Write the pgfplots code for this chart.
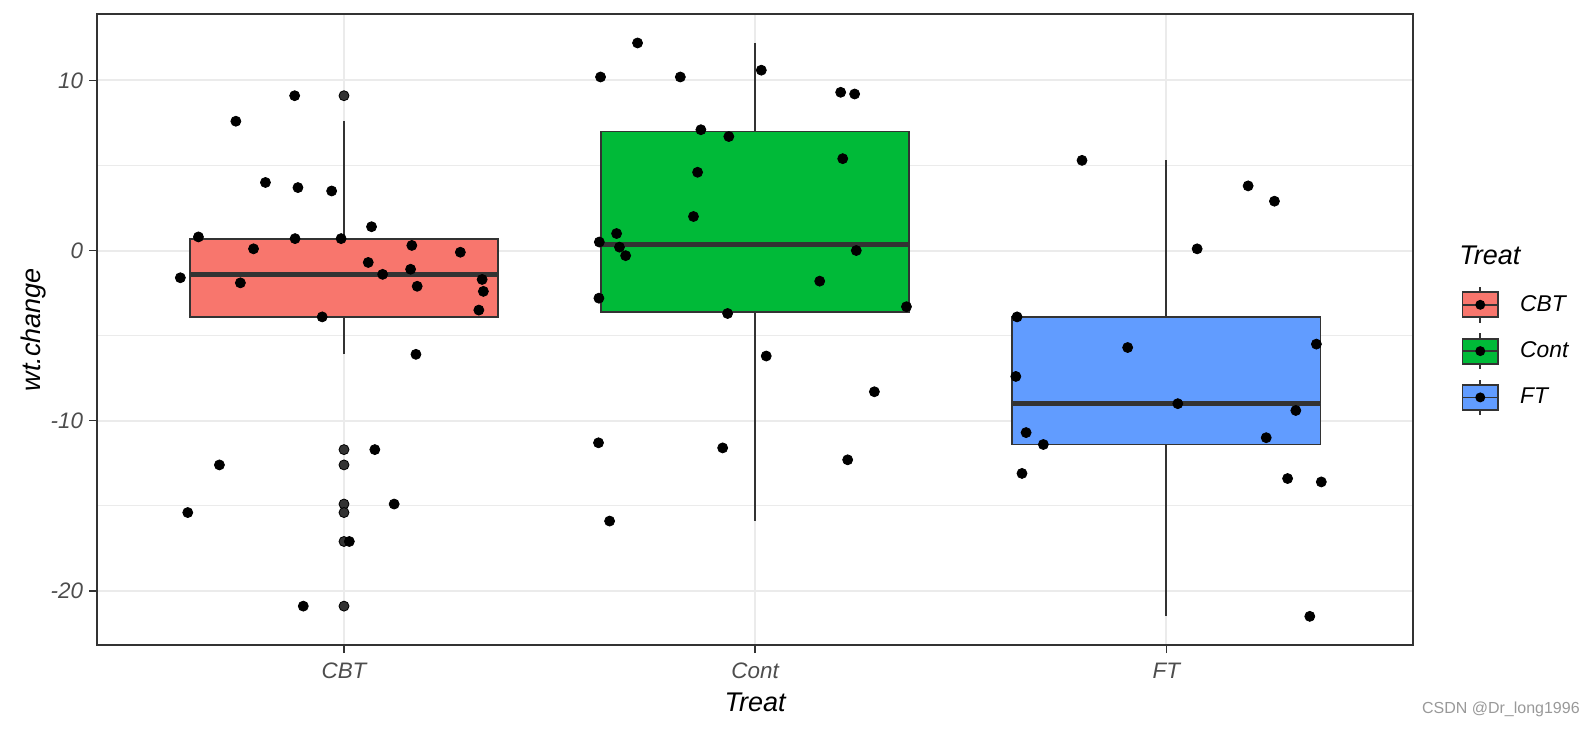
\documentclass[border=0pt]{standalone}
\usepackage{fontspec}
\setmainfont{Liberation Sans}
\usepackage{pgfplots}
\pgfplotsset{compat=1.18}
\usepgfplotslibrary{statistics}
\usetikzlibrary{calc}

\definecolor{cbt}{HTML}{F8766D}
\definecolor{cont}{HTML}{00BA38}
\definecolor{ft}{HTML}{619CFF}
\definecolor{gray20}{HTML}{333333}
\definecolor{gray30}{HTML}{4D4D4D}
\definecolor{gridc}{HTML}{EBEBEB}

% legend key: box + whiskers + median + dot
\newcommand\keybox[1]{\addlegendimage{legend image code/.code={
  \path[draw=none, fill=none] (0pt,-11.575pt) rectangle (17.7pt,11.575pt);
  \draw[gray20, line width=0.9pt] (8.85pt,-8.9pt) -- (8.85pt,8.9pt);
  \draw[fill=#1, draw=gray20, line width=0.9pt] (0pt,-6.25pt) rectangle (17.7pt,6.25pt);
  \draw[gray20, line width=0.9pt] (0pt,0pt) -- (17.7pt,0pt);
  \fill[black, draw=none] (8.85pt,0pt) circle (2.5pt);
}}}

\begin{document}
\begin{tikzpicture}
\begin{axis}[
  scale only axis, clip=false,
  width=657.85pt, height=315.35pt,
  xmin=0.4, xmax=3.6, ymin=-23.185, ymax=13.885,
  xtick={1,2,3}, xticklabels={CBT,Cont,FT},
  ytick={-20,-10,0,10}, yticklabels={-20,-10,0,10},
  minor ytick={-15,-5,5},
  grid=both,
  major grid style={draw=gridc, line width=1pt},
  minor grid style={draw=gridc, line width=0.5pt},
  axis line style={draw=gray20, line width=0.8pt},
  tick align=outside, tick pos=left,
  major tick length=4pt, minor tick length=0pt,
  every tick/.style={draw=gray20, line width=0.8pt},
  tick label style={font=\fontsize{11.2}{13}\selectfont\itshape, text=gray30},
  xticklabel style={anchor=base, inner sep=0pt, yshift=-12.6pt},
  yticklabel style={anchor=east, inner sep=0pt, xshift=-2.9pt},
  xlabel={Treat}, ylabel={wt.change},
  label style={font=\fontsize{13.5}{16}\selectfont\itshape},
  xlabel style={at={(rel axis cs:0.5,-0.1058)}, anchor=base, inner sep=0pt},
  ylabel style={at={(rel axis cs:-0.0482,0.5)}, anchor=center, inner sep=0pt},
  boxplot/draw direction=y,
  boxplot/whisker extend=0,
  boxplot/every median/.style={line width=2.3pt},
  legend style={at={(1.037,0.5761)}, anchor=north west, draw=none, fill=none,
    inner sep=0pt, outer sep=0pt, row sep=0pt,
    nodes={inner sep=0pt},
    font=\fontsize{11.4}{13}\selectfont\itshape,
    /tikz/every odd column/.append style={column sep=10.65pt}},
  legend cell align=left,
]
% boxplots (ggplot: Tukey hinges, whiskers 1.5 IQR)
\addplot[forget plot, boxplot prepared={lower whisker=-6.1, lower quartile=-3.9,
  median=-1.4, upper quartile=0.7, upper whisker=7.6, draw position=1, box extend=0.75},
  fill=cbt, draw=gray20, line width=0.9pt] coordinates {};
\addplot[forget plot, boxplot prepared={lower whisker=-15.9, lower quartile=-3.6,
  median=0.35, upper quartile=7.0, upper whisker=12.2, draw position=2, box extend=0.75},
  fill=cont, draw=gray20, line width=0.9pt] coordinates {};
\addplot[forget plot, boxplot prepared={lower whisker=-21.5, lower quartile=-11.4,
  median=-9.0, upper quartile=-3.9, upper whisker=5.3, draw position=3, box extend=0.75},
  fill=ft, draw=gray20, line width=0.9pt] coordinates {};
% outliers of the CBT box
\addplot[forget plot, only marks, mark=*, mark size=2.5pt, mark options={draw=none, fill=gray20}]
  coordinates {(1,9.1) (1,-11.7) (1,-12.6) (1,-14.9) (1,-15.4) (1,-17.1) (1,-20.9)};
% jittered points
\addplot[forget plot, only marks, mark=*, mark size=2.5pt, mark options={draw=none, fill=black}]
  coordinates {
  (1.336,-1.7) (1.059,-0.7) (0.780,0.1) (0.881,0.7) (0.970,3.5) (1.122,-14.9)
  (1.328,-3.5) (1.013,-17.1) (0.737,7.6) (0.602,-1.6) (1.075,-11.7) (1.175,-6.1)
  (1.162,-1.1) (0.809,4.0) (0.901,-20.9) (0.880,9.1) (1.178,-2.1) (1.067,1.4)
  (1.094,-1.4) (1.165,0.3) (0.888,3.7) (0.646,0.8) (1.339,-2.4) (0.697,-12.6)
  (0.748,-1.9) (0.947,-3.9) (1.283,-0.1) (0.620,-15.4) (0.993,0.7)
  };
\addplot[forget plot, only marks, mark=*, mark size=2.5pt, mark options={draw=none, fill=black}]
  coordinates {
  (1.714,12.2) (1.624,10.2) (1.818,10.2) (2.015,10.6) (2.208,9.3) (2.242,9.2)
  (1.868,7.1) (1.936,6.7) (2.213,5.4) (1.860,4.6) (1.850,2.0) (1.663,1.0)
  (1.621,0.5) (1.670,0.2) (1.685,-0.3) (2.246,0.0) (2.157,-1.8) (1.620,-2.8)
  (2.368,-3.3) (1.933,-3.7) (2.027,-6.2) (2.290,-8.3) (1.619,-11.3) (1.921,-11.6)
  (2.225,-12.3) (1.646,-15.9)
  };
\addplot[forget plot, only marks, mark=*, mark size=2.5pt, mark options={draw=none, fill=black}]
  coordinates {
  (2.795,5.3) (3.199,3.8) (3.263,2.9) (3.075,0.1) (2.637,-3.9) (3.365,-5.5)
  (2.906,-5.7) (2.634,-7.4) (3.028,-9.0) (3.315,-9.4) (2.659,-10.7) (3.243,-11.0)
  (2.701,-11.4) (2.649,-13.1) (3.295,-13.4) (3.377,-13.6) (3.349,-21.5)
  };
\keybox{cbt}\addlegendentry{CBT}
\keybox{cont}\addlegendentry{Cont}
\keybox{ft}\addlegendentry{FT}
\node[anchor=base west, inner sep=0pt, font=\fontsize{13.5}{16}\selectfont\itshape]
  at (rel axis cs:1.035,0.6036) {Treat};
\node[anchor=base east, inner sep=0pt, font=\fontsize{8}{10}\selectfont, text=black!40]
  at (rel axis cs:1.127,-0.1085) {CSDN @Dr\_long1996};
\coordinate (bl) at (rel axis cs:0,0);
\coordinate (tr) at (rel axis cs:1,1);
\end{axis}
\pgfresetboundingbox
\path ($(bl)+(-48.65pt,-43.5pt)$) rectangle ($(tr)+(91.5pt,7.15pt)$);
\end{tikzpicture}
\end{document}
